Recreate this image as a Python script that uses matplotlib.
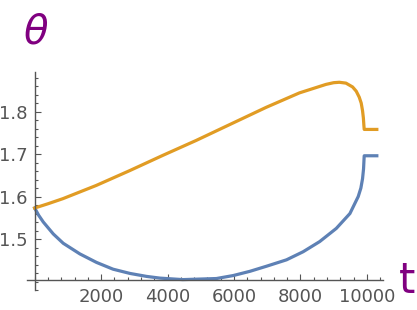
# -*- coding: utf-8 -*-
"""
Plot theta(t) for the two branches, Mathematica-like axes.
"""
import matplotlib
matplotlib.use("Agg")
import matplotlib.pyplot as plt
from matplotlib.ticker import MultipleLocator

# --- data ---
t_upper = [0, 400, 850, 1850, 2860, 3860, 4860, 5860, 6970, 7970, 8770,
           9000, 9170, 9370, 9570, 9680, 9770, 9830, 9870, 9895, 9910, 9920,
           10300]
theta_upper = [1.573, 1.583, 1.595, 1.626, 1.661, 1.697, 1.732, 1.769, 1.810,
               1.844, 1.864, 1.868, 1.869, 1.867, 1.858, 1.848, 1.834, 1.820,
               1.802, 1.785, 1.768, 1.758, 1.758]

t_lower = [0, 120, 260, 560, 860, 1360, 1860, 2360, 2870, 3370, 3770, 4460,
           5470, 5975, 6480, 6980, 7580, 8080, 8580, 9080, 9490, 9740, 9820,
           9870, 9900, 9920, 10300]
theta_lower = [1.573, 1.556, 1.540, 1.512, 1.490, 1.465, 1.445, 1.429, 1.419,
               1.412, 1.408, 1.4045, 1.407, 1.414, 1.424, 1.436, 1.451, 1.470,
               1.494, 1.525, 1.560, 1.600, 1.620, 1.642, 1.665, 1.696, 1.696]

x_ticks = [2000, 4000, 6000, 8000, 10000]
y_ticks = [1.5, 1.6, 1.7, 1.8]

ORANGE = '#E19C24'
BLUE = '#5E81B5'
PURPLE = '#800080'
GREY = '#555555'


def main():
    fig = plt.figure(figsize=(4.17, 3.10), dpi=100)
    ax = fig.add_axes([0.064, 0.0645, 0.854, 0.703])

    ax.plot(t_lower, theta_lower, color=BLUE, lw=2.3, solid_joinstyle='round')
    ax.plot(t_upper, theta_upper, color=ORANGE, lw=2.3, solid_joinstyle='round')

    ax.set_xlim(-240, 10480)
    ax.set_ylim(1.380, 1.893)

    # axes cross at (0, 1.4035) like Mathematica
    ax.spines['left'].set_position(('data', 0))
    ax.spines['bottom'].set_position(('data', 1.4035))
    for side in ['top', 'right']:
        ax.spines[side].set_visible(False)
    for side in ['left', 'bottom']:
        ax.spines[side].set_color(GREY)
        ax.spines[side].set_linewidth(1.0)

    ax.set_xticks(x_ticks)
    ax.set_xticklabels([str(v) for v in x_ticks])
    ax.set_yticks(y_ticks)
    ax.set_yticklabels([f"{v:.1f}" for v in y_ticks])
    ax.xaxis.set_minor_locator(MultipleLocator(400))
    ax.yaxis.set_minor_locator(MultipleLocator(0.02))

    ax.tick_params(which='both', direction='in', color=GREY, width=0.8)
    ax.tick_params(which='major', length=4.5, labelsize=13, labelcolor=GREY)
    ax.tick_params(which='minor', length=2.5)
    ax.tick_params(axis='x', pad=6)
    ax.tick_params(axis='y', pad=5)

    # axis labels
    fig.text(35 / 417, 1 - 32 / 310, 'θ', color=PURPLE, fontsize=29,
             fontstyle='italic', ha='center', va='center')
    fig.text(407 / 417, 1 - 281 / 310, 't', color=PURPLE, fontsize=30,
             ha='center', va='center')

    fig.savefig('out.png', dpi=100)
    plt.close(fig)


if __name__ == "__main__":
    main()
